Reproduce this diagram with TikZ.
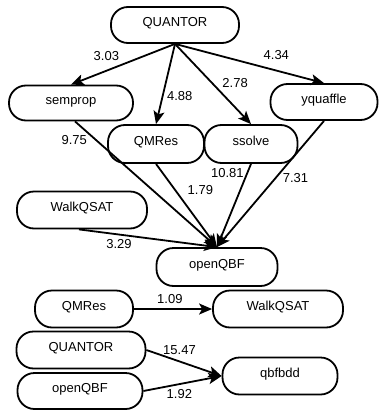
\documentclass[tikz,border=0pt]{standalone}
\usepackage{fontspec}
\setmainfont{Liberation Sans}
\usetikzlibrary{arrows.meta}
\begin{document}
\begin{tikzpicture}[x=1pt,y=-1pt,
  solver/.style={draw,line width=1.8pt,rounded corners=17pt,
    minimum height=37pt,inner sep=0pt,text height=9.3pt,text depth=6pt,
    font=\fontsize{13}{15}\selectfont},
  link/.style={line width=1.8pt,-{Stealth[length=13pt,width=11pt,inset=3pt]}},
  weight/.style={font=\fontsize{13}{15}\selectfont,inner sep=0pt}]
\useasboundingbox (0,0) rectangle (379,410);

% upper graph
\node[solver,minimum width=128pt,minimum height=36pt] (quantor) at (175,25) {QUANTOR};
\node[solver,minimum width=124pt,minimum height=35pt] (semprop) at (71,103) {semprop};
\node[solver,minimum width=107pt,minimum height=36pt] (yquaffle) at (324,102) {yquaffle};
\node[solver,minimum width=96pt,minimum height=38pt] (qmres) at (156,144) {QMRes};
\node[solver,minimum width=93pt,minimum height=38pt] (ssolve) at (251,144) {ssolve};
\node[solver,minimum width=130pt] (walkqsat) at (82,210) {WalkQSAT};
\node[solver,minimum width=121pt,minimum height=38pt] (openqbf) at (217,267) {openQBF};

\draw[link] (quantor.south) -- node[weight,pos=0.66,yshift=15pt]{3.03} (semprop.north);
\draw[link] (quantor.south) -- node[weight,pos=0.646,xshift=17pt]{4.88} (qmres.north);
\draw[link] (quantor.south) -- node[weight,pos=0.488,xshift=23pt]{2.78} (ssolve.north);
\draw[link] (quantor.south) -- node[weight,pos=0.68,yshift=16pt]{4.34} (yquaffle.north);

\draw[link] ([xshift=4pt]semprop.south) -- node[weight,pos=0.15,xshift=-22pt]{9.75} (openqbf.north);
\draw[link] (qmres.south) -- node[weight,pos=0.318,xshift=25pt]{1.79} (openqbf.north);
\draw[link] (ssolve.south) -- node[weight,pos=0.106,xshift=-20pt]{10.81} (openqbf.north);
\draw[link] (yquaffle.south) -- node[weight,pos=0.453,xshift=20pt]{7.31} (openqbf.north);
\draw[link] ([xshift=-3pt]walkqsat.south) -- node[weight,pos=0.29,yshift=-9pt]{3.29} (openqbf.north);

% lower graphs
\node[solver,minimum width=98pt] (qmresb) at (84,309) {QMRes};
\node[solver,minimum width=130pt] (walkqsatb) at (278,309) {WalkQSAT};
\node[solver,minimum width=129pt] (quantorb) at (81,350) {QUANTOR};
\node[solver,minimum width=125pt,minimum height=36pt] (openqbfb) at (80,391) {openQBF};
\node[solver,minimum width=115pt] (qbfbdd) at (280,376) {qbfbdd};

\draw[link] (qmresb.east) -- node[weight,pos=0.46,yshift=10pt]{1.09} (walkqsatb.west);
\draw[link] (quantorb.east) -- node[weight,pos=0.44,yshift=11.5pt]{15.47} (qbfbdd.west);
\draw[link] (openqbfb.east) -- node[weight,pos=0.46,yshift=-10pt]{1.92} (qbfbdd.west);
\end{tikzpicture}
\end{document}
